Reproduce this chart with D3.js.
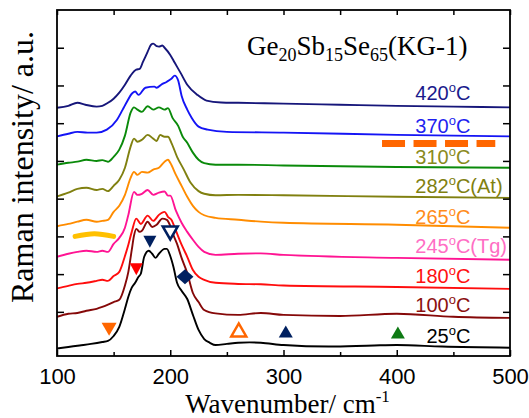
<!DOCTYPE html>
<html>
<head>
<meta charset="utf-8">
<script src="https://cdn.jsdelivr.net/npm/d3@7"></script>
<style>
  body { margin: 0; background: #fff; }
  svg { display: block; }
</style>
</head>
<body>
<div id="chart"></div>
<script>
// Raman spectra, [wavenumber (cm-1), intensity (a.u., stacked)]
const s25 = [[100,0.03],[110,0.07],[120,0.11],[130,0.15],[140,0.20],[145,0.23],[150,0.36],[155,0.60],[160,1.08],[163,1.40],[166,1.64],[169,1.77],[172,1.93],[174,2.01],[177,2.46],[181,2.62],[184,2.54],[187,2.43],[190,2.54],[195,2.67],[197,2.67],[200,2.48],[203,2.17],[206,1.77],[210,1.56],[215,1.34],[220,0.92],[225,0.52],[230,0.28],[235,0.18],[240,0.12],[250,0.15],[260,0.18],[270,0.19],[280,0.18],[300,0.12],[340,0.08],[380,0.11],[400,0.12],[440,0.08],[500,0.05]];
const s100 = [[100,0.87],[110,0.95],[118,0.97],[126,1.03],[135,1.08],[140,1.13],[145,1.19],[150,1.26],[155,1.32],[160,1.70],[163,2.06],[166,2.64],[168,3.02],[170,3.20],[173,3.12],[175,3.15],[180,3.39],[184,3.25],[188,3.31],[193,3.47],[197,3.44],[200,3.28],[203,3.02],[206,2.80],[210,2.43],[215,2.03],[220,1.50],[225,1.26],[230,1.05],[240,0.96],[260,0.92],[280,0.97],[300,0.92],[350,0.89],[400,0.95],[450,0.87],[500,0.84]];
const s180 = [[100,1.62],[110,1.69],[118,1.74],[126,1.77],[135,1.82],[140,1.85],[145,1.82],[150,1.95],[155,2.06],[160,2.48],[163,2.78],[166,3.12],[170,3.47],[174,3.33],[180,3.55],[185,3.41],[190,3.57],[195,3.65],[198,3.52],[201,3.44],[205,3.15],[210,2.78],[215,2.46],[220,2.11],[225,1.93],[230,1.85],[240,1.77],[260,1.74],[280,1.73],[300,1.70],[400,1.66],[500,1.61]];
const s245 = [[100,2.46],[110,2.54],[118,2.59],[126,2.62],[135,2.59],[140,2.62],[145,2.59],[150,2.80],[155,2.96],[160,3.23],[163,3.57],[168,4.18],[171,4.10],[175,4.13],[180,4.23],[185,4.10],[190,4.16],[195,4.19],[198,4.08],[200,4.08],[205,3.68],[210,3.36],[215,3.12],[220,2.91],[225,2.72],[230,2.59],[240,2.51],[260,2.54],[280,2.55],[300,2.51],[400,2.43],[500,2.38]];
const s265 = [[100,3.27],[110,3.33],[118,3.39],[126,3.44],[135,3.39],[140,3.41],[145,3.44],[150,3.65],[155,3.81],[160,4.10],[165,4.55],[168,4.71],[171,4.63],[175,4.71],[180,4.69],[185,4.77],[190,4.82],[195,4.98],[198,5.03],[200,4.95],[205,4.63],[210,4.34],[215,4.05],[220,3.81],[225,3.65],[230,3.56],[240,3.49],[260,3.44],[280,3.39],[300,3.36],[400,3.31],[500,3.23]];
const s282 = [[100,4.06],[110,4.16],[118,4.26],[126,4.29],[135,4.23],[140,4.26],[145,4.20],[150,4.34],[155,4.50],[160,4.82],[165,5.38],[168,5.59],[171,5.51],[175,5.56],[180,5.69],[185,5.59],[188,5.53],[191,5.69],[195,5.64],[198,5.64],[201,5.48],[206,5.11],[212,4.77],[218,4.42],[225,4.20],[230,4.13],[240,4.09],[260,4.10],[300,4.09],[400,4.05],[500,4.02]];
const s310 = [[100,4.90],[110,4.95],[118,4.98],[126,5.03],[135,5.00],[140,5.02],[145,4.98],[150,5.11],[155,5.30],[160,5.67],[165,6.28],[168,6.42],[171,6.36],[175,6.30],[180,6.45],[185,6.36],[190,6.42],[195,6.36],[198,6.40],[202,6.14],[207,5.93],[211,5.64],[215,5.48],[220,5.22],[225,5.03],[230,4.94],[240,4.90],[260,4.90],[300,4.88],[400,4.84],[500,4.82]];
const s370 = [[100,5.65],[110,5.72],[118,5.77],[127,5.75],[135,5.75],[144,5.83],[153,6.09],[158,6.36],[162,6.58],[166,6.78],[169,6.84],[172,6.75],[178,6.94],[186,6.97],[188,6.94],[192,7.02],[197,7.10],[201,7.18],[204,7.26],[207,7.13],[210,6.73],[215,6.36],[219,6.14],[225,5.91],[233,5.83],[250,5.77],[300,5.75],[400,5.69],[500,5.65]];
const s420 = [[100,6.41],[110,6.46],[118,6.54],[125,6.49],[135,6.44],[140,6.46],[145,6.54],[150,6.65],[155,6.81],[160,7.02],[165,7.26],[170,7.42],[173,7.44],[176,7.63],[180,7.89],[183,8.08],[185,8.11],[188,8.04],[190,8.03],[193,8.06],[195,8.00],[200,7.81],[204,7.60],[209,7.34],[215,7.02],[224,6.75],[232,6.60],[245,6.55],[260,6.54],[300,6.52],[350,6.49],[400,6.46],[450,6.44],[500,6.42]];

const temps = ['420', '370', '310', '282', '265', '245', '180', '100', '25'];
const suffixes = ['', '', '', '(At)', '', '(Tg)', '', '', ''];
const labelV = [6.62, 5.75, 4.92, 4.16, 3.33, 2.56, 1.77, 1.00, 0.18];
const spectra = [s420, s370, s310, s282, s265, s245, s180, s100, s25];

// peak markers
const peakW = [146, 170, 182, 200, 213, 260.5, 302, 401];
const peakV = [0.54, 2.13, 2.86, 3.09, 1.93, 0.52, 0.48, 0.45];
const peakKind = ['downOrange', 'downRed', 'downNavy', 'downNavyOpen', 'diamond', 'upOrangeOpen', 'upNavy', 'upGreen'];

// yellow band and dashed orange band
const bandW = [116, 133, 150];
const bandV = [3.00, 3.07, 3.00];
const dashW = [387, 487];
const dashV = [5.46, 5.46];

const xTicks = [100, 200, 300, 400, 500];
const xMinor = [150, 250, 350, 450];
const yTicks = [1, 2, 3, 4, 5, 6, 7, 8];

const lineColors = ['#16167a', '#1414f5', '#0a8a0a', '#808010', '#ff8c00', '#ff1493', '#ff0d0d', '#850808', '#000000'];
const textColors = ['#1a1a8c', '#1f1ff0', '#8a8a20', '#808010', '#ff8c1a', '#ff6ec4', '#ff1010', '#8b1010', '#000000'];

var margin = {top: 10, right: 19, bottom: 62, left: 57},
    width = 529 - margin.left - margin.right,
    height = 418 - margin.top - margin.bottom;

var x = d3.scaleLinear().domain([100, 500]).range([0, width]);
var y = d3.scaleLinear().domain([-0.17, 9.0]).range([height, 0]);

var svg = d3.select('#chart')
    .append('svg')
    .attr('width', 529)
    .attr('height', 418);

var g = svg.append('g')
    .attr('transform', 'translate(' + margin.left + ',' + margin.top + ')');

g.append('clipPath').attr('id', 'clip')
    .append('rect').attr('width', width).attr('height', height);

// spectra
var line = d3.line()
    .x(d => x(d[0]))
    .y(d => y(d[1]))
    .curve(d3.curveMonotoneX);

spectra.forEach((s, i) => {
    g.append('path')
        .datum(s)
        .attr('clip-path', 'url(#clip)')
        .attr('d', line)
        .attr('fill', 'none')
        .attr('stroke', lineColors[i])
        .attr('stroke-width', 1.9)
        .attr('stroke-linejoin', 'round');
});

// axes, ticks inward
function clean(sel) {
    sel.select('.domain').remove();
    sel.selectAll('.tick line').attr('stroke', '#000').attr('stroke-width', 1.5);
}

g.append('g')
    .attr('transform', 'translate(0,' + height + ')')
    .call(d3.axisBottom(x).tickValues(xTicks).tickSize(-6).tickPadding(12))
    .call(clean)
    .selectAll('text')
    .attr('font-family', '"Liberation Sans", Arial, sans-serif')
    .attr('font-size', 22)
    .attr('fill', '#000');

g.append('g')
    .attr('transform', 'translate(0,' + height + ')')
    .call(d3.axisBottom(x).tickValues(xMinor).tickSize(-4).tickFormat(''))
    .call(clean);

g.append('g')
    .call(d3.axisTop(x).tickValues(xTicks.concat(xMinor)).tickSize(-5).tickFormat(''))
    .call(clean);

g.append('g')
    .call(d3.axisLeft(y).tickValues(yTicks).tickSize(-7).tickFormat(''))
    .call(clean);

g.append('g')
    .attr('transform', 'translate(' + width + ',0)')
    .call(d3.axisRight(y).tickValues(yTicks).tickSize(-7).tickFormat(''))
    .call(clean);

// frame
g.append('rect')
    .attr('width', width)
    .attr('height', height)
    .attr('fill', 'none')
    .attr('stroke', '#000')
    .attr('stroke-width', 1.8);

// yellow band
g.append('path')
    .datum(bandW.map((w, i) => [w, bandV[i]]))
    .attr('d', d3.line().x(d => x(d[0])).y(d => y(d[1])).curve(d3.curveNatural))
    .attr('fill', 'none')
    .attr('stroke', '#ffc000')
    .attr('stroke-width', 5)
    .attr('stroke-linecap', 'round');

// orange dashed band
g.append('line')
    .attr('x1', x(dashW[0]))
    .attr('x2', x(dashW[1]))
    .attr('y1', y(dashV[0]))
    .attr('y2', y(dashV[1]))
    .attr('stroke', '#ff6600')
    .attr('stroke-width', 7)
    .attr('stroke-dasharray', '23,8.5');

// peak markers
const markStyle = {
    downOrange:   {shape: 'down', w: 15, h: 13, fill: '#ff6600', stroke: 'none'},
    downRed:      {shape: 'down', w: 13, h: 12, fill: '#ff0000', stroke: 'none'},
    downNavy:     {shape: 'down', w: 13, h: 12, fill: '#002060', stroke: 'none'},
    downNavyOpen: {shape: 'down', w: 15, h: 13, fill: '#fff', stroke: '#002060'},
    diamond:      {shape: 'diamond', w: 17, h: 15, fill: '#002060', stroke: 'none'},
    upOrangeOpen: {shape: 'up', w: 15, h: 13, fill: '#fff', stroke: '#ff6600'},
    upNavy:       {shape: 'up', w: 14, h: 12, fill: '#002060', stroke: 'none'},
    upGreen:      {shape: 'up', w: 14, h: 12, fill: '#0e7a14', stroke: 'none'}
};

function markPath(s) {
    var hw = s.w / 2, hh = s.h / 2;
    if (s.shape === 'down') return `M${-hw},${-hh}L${hw},${-hh}L0,${hh}Z`;
    if (s.shape === 'up') return `M${-hw},${hh}L${hw},${hh}L0,${-hh}Z`;
    return `M0,${-hh}L${hw},0L0,${hh}L${-hw},0Z`;
}

peakW.forEach((w, i) => {
    var s = markStyle[peakKind[i]];
    g.append('path')
        .attr('transform', 'translate(' + x(w) + ',' + y(peakV[i]) + ')')
        .attr('d', markPath(s))
        .attr('fill', s.fill)
        .attr('stroke', s.stroke)
        .attr('stroke-width', 2.5)
        .attr('stroke-linejoin', 'miter');
});

// temperature labels
const labelX = x(465);
temps.forEach((t, i) => {
    var txt = g.append('text')
        .attr('x', labelX)
        .attr('y', y(labelV[i]))
        .attr('text-anchor', 'end')
        .attr('font-family', '"Liberation Sans", Arial, sans-serif')
        .attr('font-size', 20)
        .attr('fill', textColors[i]);
    txt.append('tspan').text(t);
    txt.append('tspan').attr('font-size', 13).attr('dy', -8).text('o');
    txt.append('tspan').attr('dy', 8).text('C');
    if (suffixes[i]) {
        g.append('text')
            .attr('x', labelX)
            .attr('y', y(labelV[i]))
            .attr('font-family', '"Liberation Sans", Arial, sans-serif')
            .attr('font-size', 20)
            .attr('fill', textColors[i])
            .text(suffixes[i]);
    }
});

// title
var title = g.append('text')
    .attr('x', 190)
    .attr('y', 45)
    .attr('font-family', '"Liberation Serif", "Times New Roman", serif')
    .attr('font-size', 27)
    .attr('fill', '#000');
[['Ge', false], ['20', true], ['Sb', false], ['15', true], ['Se', false], ['65', true], ['(KG-1)', false]]
    .forEach((p, i, arr) => {
        var prevSub = i > 0 && arr[i - 1][1];
        var ts = title.append('tspan').text(p[0]);
        if (p[1]) ts.attr('font-size', 18).attr('dy', 6);
        else if (prevSub) ts.attr('dy', -6);
    });

// axis titles
svg.append('text')
    .attr('x', margin.left + x(300) + 4)
    .attr('y', 413)
    .attr('text-anchor', 'middle')
    .attr('font-family', '"Liberation Serif", "Times New Roman", serif')
    .attr('font-size', 27)
    .attr('fill', '#000')
    .call(t => {
        t.append('tspan').text('Wavenumber/ cm');
        t.append('tspan').attr('font-size', 17).attr('dy', -11).text('-1');
    });

svg.append('text')
    .attr('transform', 'translate(33,' + 167 + ') rotate(-90)')
    .attr('text-anchor', 'middle')
    .attr('font-family', '"Liberation Serif", "Times New Roman", serif')
    .attr('font-size', 32)
    .attr('fill', '#000')
    .text('Raman intensity/ a.u.');
</script>
</body>
</html>
